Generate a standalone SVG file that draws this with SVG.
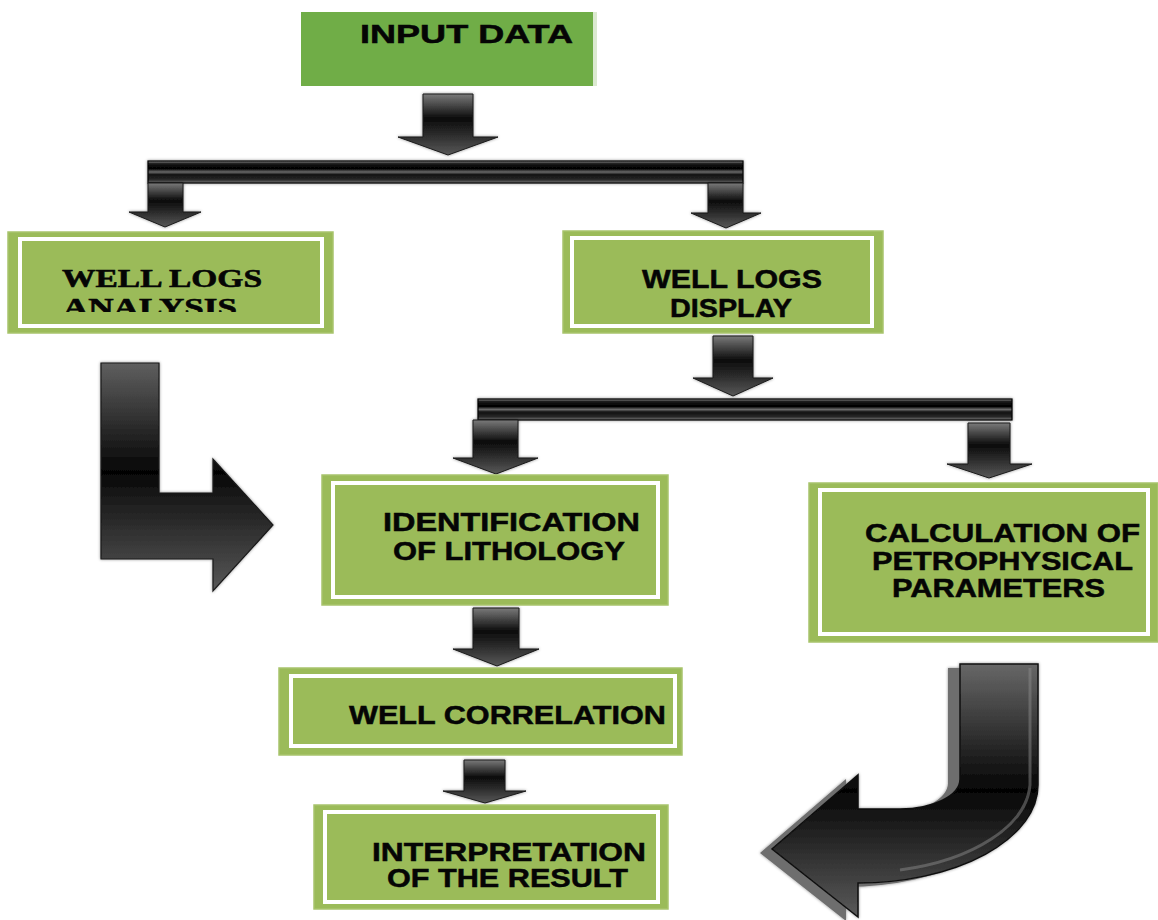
<svg xmlns="http://www.w3.org/2000/svg" width="1158" height="920" viewBox="0 0 1158 920">
  <style>
    .box { fill: #9BBB59; stroke: #a8c46c; stroke-width: 1.5; }
    .rim { fill: none; stroke: #ffffff; stroke-width: 4; }
    .lbl { font-family: "Liberation Sans", Arial, sans-serif; font-weight: bold; font-size: 26px; fill: #050505; stroke: #050505; stroke-width: 0.5; }
    .lbl-serif { font-family: "Liberation Serif", "Times New Roman", serif; font-weight: bold; font-size: 26px; fill: #050505; stroke: #050505; stroke-width: 0.6; }
    .down { fill: url(#gDown); stroke: #1a1a1a; stroke-width: 1; filter: url(#halo); }
    .bar { fill: url(#gBar); stroke: #000; stroke-width: 1.2; filter: url(#halo); }
  </style>
  <defs>
    <linearGradient id="gDown" x1="0" y1="0" x2="0" y2="1">
      <stop offset="0" stop-color="#7a7a7a"/>
      <stop offset="0.4" stop-color="#0b0b0b"/>
      <stop offset="0.7" stop-color="#303030"/>
      <stop offset="1" stop-color="#585858"/>
    </linearGradient>
    <linearGradient id="gBar" x1="0" y1="0" x2="0" y2="1">
      <stop offset="0" stop-color="#9a9a9a"/>
      <stop offset="0.12" stop-color="#1a1a1a"/>
      <stop offset="0.35" stop-color="#000"/>
      <stop offset="0.5" stop-color="#6a6a6a"/>
      <stop offset="0.62" stop-color="#111"/>
      <stop offset="0.85" stop-color="#2a2a2a"/>
      <stop offset="1" stop-color="#7a7a7a"/>
    </linearGradient>
    <linearGradient id="gBendL" gradientUnits="userSpaceOnUse" x1="0" y1="363" x2="0" y2="591">
      <stop offset="0" stop-color="#5f5f5f"/>
      <stop offset="0.48" stop-color="#050505"/>
      <stop offset="0.6" stop-color="#1c1c1c"/>
      <stop offset="1" stop-color="#575757"/>
    </linearGradient>
    <linearGradient id="gCurve" gradientUnits="userSpaceOnUse" x1="0" y1="664" x2="0" y2="917">
      <stop offset="0" stop-color="#676767"/>
      <stop offset="0.5" stop-color="#050505"/>
      <stop offset="1" stop-color="#5a5a5a"/>
    </linearGradient>
    <filter id="halo" x="-20%" y="-20%" width="140%" height="140%">
      <feDropShadow dx="0" dy="0" stdDeviation="1.5" flood-color="#000" flood-opacity="0.45"/>
    </filter>
    <clipPath id="cutAnalysis">
      <rect x="0" y="290" width="340" height="22"/>
    </clipPath>
  </defs>

  <rect width="1158" height="920" fill="#ffffff"/>

  <!-- connectors: block arrows and distribution bars -->
  <g id="connectors">
    <path class="down" d="M423,94 H473 V137 H498 L448,155 L398,137 H423 Z"/>
    <rect class="bar" x="148" y="161" width="595" height="22"/>
    <path class="down" d="M148,183 H183 V212 H201 L165,227 L129,212 H148 Z"/>
    <path class="down" d="M708,183 H743 V213 H761 L726,228 L691,213 H708 Z"/>
    <path class="down" d="M713,336 H753 V378 H773 L733,396 L693,378 H713 Z"/>
    <rect class="bar" x="478" y="399" width="534" height="21"/>
    <path class="down" d="M473,420 H518 V458 H538 L496,474 L453,458 H473 Z"/>
    <path class="down" d="M968,423 H1010 V464 H1032 L989,478 L947,464 H968 Z"/>
    <path class="down" d="M473,608 H519 V649 H539 L497,666 L453,649 H473 Z"/>
    <path class="down" d="M464,760 H505 V791 H526 L485,803 L443,791 H464 Z"/>

    <!-- bent arrow from the analysis box into the lithology box -->
    <path d="M101,363 H159 V493 H213 V459 L273,525 L213,591 V559 H101 Z" fill="url(#gBendL)" stroke="#1a1a1a" stroke-width="1.2" filter="url(#halo)"/>

    <!-- curved return arrow from the petrophysical box -->
    <g filter="url(#halo)">
      <path transform="translate(-12,4)" d="M960,664 H1038 V785 A180 98 0 0 1 858 883 V917 L772,849 L858,775 V809 H900 A60 30 0 0 0 960 779 Z" fill="#6e6e6e"/>
      <path d="M960,664 H1038 V785 A180 98 0 0 1 858 883 V917 L772,849 L858,775 V809 H900 A60 30 0 0 0 960 779 Z" fill="url(#gCurve)" stroke="#111" stroke-width="1.5"/>
      <path d="M1030,668 V785 A172 92 0 0 1 900 870" fill="none" stroke="#8a8a8a" stroke-width="3" opacity="0.5"/>
    </g>
  </g>

  <g id="input-data">
    <rect x="301" y="12" width="292" height="74" fill="#70AD47"/>
    <rect x="593" y="12" width="4" height="74" fill="#dbe9d0"/>
    <text class="lbl" x="360" y="43" font-size="25" textLength="213" lengthAdjust="spacingAndGlyphs">INPUT DATA</text>
  </g>

  <g id="well-logs-analysis">
    <rect class="box" x="8" y="232" width="325" height="101"/>
    <rect class="rim" x="20" y="239" width="302" height="87"/>
    <text class="lbl-serif" x="62" y="287" textLength="200" lengthAdjust="spacingAndGlyphs">WELL LOGS</text>
    <text class="lbl-serif" x="63" y="316" textLength="174" lengthAdjust="spacingAndGlyphs" clip-path="url(#cutAnalysis)">ANALYSIS</text>
  </g>

  <g id="well-logs-display">
    <rect class="box" x="563" y="231" width="320" height="102"/>
    <rect class="rim" x="572" y="238" width="300" height="88"/>
    <text class="lbl" x="642" y="288" textLength="180" lengthAdjust="spacingAndGlyphs">WELL LOGS</text>
    <text class="lbl" x="670" y="317" textLength="122" lengthAdjust="spacingAndGlyphs">DISPLAY</text>
  </g>

  <g id="identification-of-lithology">
    <rect class="box" x="322" y="475" width="346" height="130"/>
    <rect class="rim" x="333" y="483" width="325" height="114"/>
    <text class="lbl" x="383" y="531" textLength="257" lengthAdjust="spacingAndGlyphs">IDENTIFICATION</text>
    <text class="lbl" x="393" y="560" textLength="232" lengthAdjust="spacingAndGlyphs">OF LITHOLOGY</text>
  </g>

  <g id="petrophysical-parameters">
    <rect class="box" x="809" y="483" width="349" height="159"/>
    <rect class="rim" x="820" y="490" width="328" height="144"/>
    <text class="lbl" x="865" y="542" textLength="275" lengthAdjust="spacingAndGlyphs">CALCULATION OF</text>
    <text class="lbl" x="872" y="570" textLength="261" lengthAdjust="spacingAndGlyphs">PETROPHYSICAL</text>
    <text class="lbl" x="892" y="597" textLength="213" lengthAdjust="spacingAndGlyphs">PARAMETERS</text>
  </g>

  <g id="well-correlation">
    <rect class="box" x="279" y="668" width="403" height="87"/>
    <rect class="rim" x="291" y="676" width="384" height="70"/>
    <text class="lbl" x="349" y="724" textLength="317" lengthAdjust="spacingAndGlyphs">WELL CORRELATION</text>
  </g>

  <g id="interpretation">
    <rect class="box" x="314" y="805" width="354" height="104"/>
    <rect class="rim" x="325" y="812" width="333" height="90"/>
    <text class="lbl" x="372" y="861" textLength="274" lengthAdjust="spacingAndGlyphs">INTERPRETATION</text>
    <text class="lbl" x="387" y="887" textLength="241" lengthAdjust="spacingAndGlyphs">OF THE RESULT</text>
  </g>
</svg>
